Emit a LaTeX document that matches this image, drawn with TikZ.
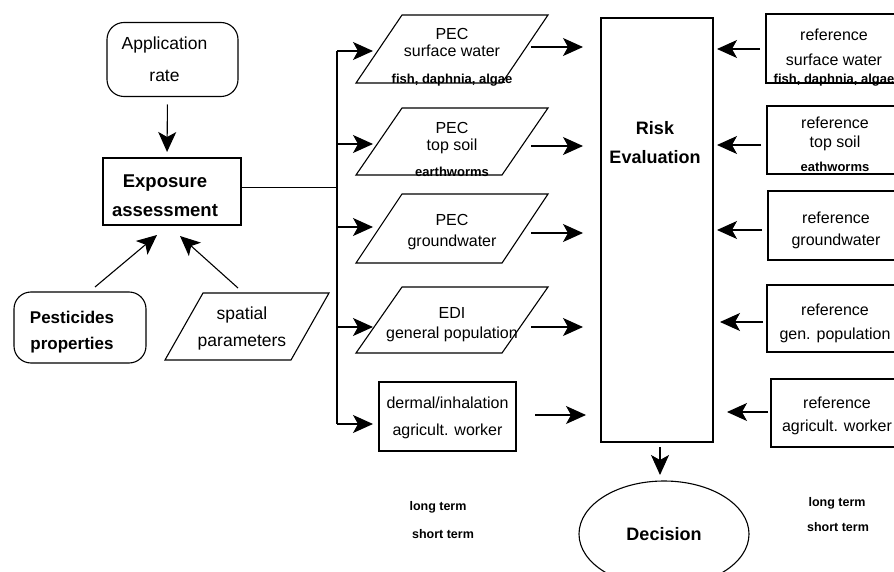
\documentclass[tikz,border=0pt]{standalone}
\usepackage{fontspec}
\setmainfont{Liberation Sans}
\usetikzlibrary{arrows.meta,shapes.geometric,calc}
\newcommand\fsz[2]{\fontsize{#1pt}{#2pt}\selectfont}
% slanted data box: outline drawn around the body of node #1,
% #2 = half of the horizontal slant
\newcommand\slantbox[2]{%
  \draw[ln] ($(#1.south west)+(-#2,0)$) -- ($(#1.south east)+(-#2,0)$)
    -- ($(#1.north east)+(#2,0)$) -- ($(#1.north west)+(#2,0)$) -- cycle;}

\begin{document}
\begin{tikzpicture}[x=1pt,y=-1pt,
  every node/.style={inner sep=0pt,outer sep=0pt,align=center},
  ln/.style={line width=1.1pt},
  box/.style={ln,draw,rectangle},
  rbox/.style={box,rounded corners=17pt},
  body/.style={rectangle},
  arr/.style={ln,-{Stealth[length=20pt,width=18pt,inset=5pt]}},
  mid/.style={font=\fsz{16}{#1}},
  term/.style={font=\bfseries\fsz{12.5}{12.5},anchor=base},
]
\useasboundingbox (0,0) rectangle (894,572);
\clip (0,0) rectangle (894,572);

% ---- inputs of the exposure assessment
\node[rbox,minimum width=131pt,minimum height=74pt,
  label={[name=app-t,font=\fsz{17.5}{32},xshift=-8pt]center:{Application\\rate}}]
  (app) at (172.5,59.5) {};
\node[box,minimum width=138pt,minimum height=67pt,
  label={[name=exp-t,font=\bfseries\fsz{18.5}{29},xshift=-7pt,yshift=-4pt]center:{Exposure\\assessment}}]
  (exp) at (172,191.5) {};
\node[rbox,minimum width=132pt,minimum height=71pt,
  label={[name=pest-t,font=\bfseries\fsz{17}{26},xshift=-8pt,yshift=-5pt]center:{Pesticides\\properties}}]
  (pest) at (80,327.5) {};
\node[body,minimum width=126pt,minimum height=67pt,
  label={[name=spat-t,font=\fsz{17.5}{27},xshift=-5pt,yshift=-2pt]center:{spatial\\parameters}}]
  (spat) at (247,326.5) {};
\slantbox{spat}{19}

% ---- exposure estimates
\node[body,minimum width=146pt,minimum height=68pt,
  label={[name=p1-t,mid=17,yshift=-8pt]center:{PEC\\surface water\\[10pt]{\bfseries\fsz{13}{13}fish, daphnia, algae}}}]
  (p1) at (452,49) {};
\node[body,minimum width=146pt,minimum height=67pt,
  label={[name=p2-t,mid=17,yshift=-8pt]center:{PEC\\top soil\\[9pt]{\bfseries\fsz{13}{13}earthworms}}}]
  (p2) at (452,141.5) {};
\node[body,minimum width=146pt,minimum height=69pt,
  label={[name=p3-t,mid=21,yshift=-4pt]center:{PEC\\groundwater}}]
  (p3) at (452,228.5) {};
\node[body,minimum width=146pt,minimum height=66pt,
  label={[name=p4-t,mid=20,yshift=-5pt]center:{EDI\\general population}}]
  (p4) at (452,320) {};
\foreach \n in {p1,p2,p3,p4} {\slantbox{\n}{23}}
\node[box,minimum width=137pt,minimum height=69pt,
  label={[name=derm-t,mid=27,yshift=-1pt]center:{dermal/inhalation\\agricult. worker}}]
  (derm) at (447.5,416.5) {};

% ---- evaluation and decision
\node[box,minimum width=112pt,minimum height=424pt,
  label={[name=risk-t,font=\bfseries\fsz{18}{29},xshift=-2pt,yshift=87pt]center:{Risk\\Evaluation}}]
  (risk) at (657,230) {};
\node[ellipse,draw,ln,minimum width=170pt,minimum height=106pt,
  font=\bfseries\fsz{18}{18}] (dec) at (664,534) {Decision};

% ---- reference values
\node[box,minimum width=136pt,minimum height=69pt,
  label={[name=r1-t,mid=25,yshift=-9pt]center:{reference\\surface water\\[-7pt]{\bfseries\fsz{13}{13}fish, daphnia, algae}}}]
  (r1) at (834,48.5) {};
\node[box,minimum width=136pt,minimum height=68pt,
  label={[name=r2-t,mid=19,yshift=-4.5pt]center:{reference\\top soil\\[5pt]{\bfseries\fsz{13}{13}eathworms}}}]
  (r2) at (835,140) {};
\node[box,minimum width=136pt,minimum height=69pt,
  label={[name=r3-t,mid=22,yshift=-5pt]center:{reference\\groundwater}}]
  (r3) at (836,225.5) {};
\node[box,minimum width=136pt,minimum height=67pt,
  label={[name=r4-t,mid=24,yshift=-5pt]center:{reference\\gen. population}}]
  (r4) at (835,318.5) {};
\node[box,minimum width=136pt,minimum height=68pt,
  label={[name=r5-t,mid=23,yshift=-3pt,xshift=-2pt]center:{reference\\agricult. worker}}]
  (r5) at (839,413) {};

% ---- time scale notes
\node[term] (lt1) at (438,510.5) {long term};
\node[term] (st1) at (443,538) {short term};
\node[term] (lt2) at (837,506) {long term};
\node[term] (st2) at (838,531) {short term};

% ---- connectors
\draw[arr,shorten <=8pt,shorten >=6pt] ([xshift=-5pt]app.south) -- ([xshift=-5pt]exp.north);
\draw[arr] ([xshift=15pt,yshift=5pt]pest.north) -- ([xshift=-15pt,yshift=-10pt]exp.south);
\draw[arr] ([xshift=-9pt,yshift=5pt]spat.north) -- ([xshift=8pt,yshift=-11pt]exp.south);

\coordinate (bus) at (337,0);
\coordinate (exp-out) at ([yshift=4pt]exp.east);
\draw[ln] (exp-out) -- (exp-out -| bus);
\foreach \n/\d in {p1/-2,p2/-2.5,p3/1.5,p4/-7,derm/-7.5}
  {\coordinate (\n-in) at ([yshift=\d pt]\n.west);}
\draw[ln] (bus |- p1-in) -- (bus |- derm-in);
\foreach \n in {p1,p2,p3,p4,derm}
  {\draw[arr,shorten >=6pt] (bus |- \n-in) -- (\n-in);}

\foreach \n/\d in {p1/2,p2/-4.5,p3/-4.5,p4/-7}
  {\coordinate (\n-out) at ([yshift=\d pt]\n.east);
   \draw[arr,shorten <=6pt,shorten >=18pt] (\n-out) -- (risk.west |- \n-out);}
\coordinate (derm-out) at ([yshift=1.5pt]derm.east);
\draw[arr,shorten <=19pt,shorten >=15pt] (derm-out) -- (risk.west |- derm-out);

\foreach \n/\d/\a/\b in {r1/-0.5/6/4,r2/-5/6/4,r3/-4.5/6/4,r4/-3.5/4/7,r5/1/3/14}
  {\coordinate (\n-out) at ([yshift=\d pt]\n.west);
   \draw[arr,shorten <=\a pt,shorten >=\b pt] (\n-out) -- (risk.east |- \n-out);}

\draw[arr,shorten <=5pt,shorten >=6pt] ([xshift=3pt]risk.south) -- ([xshift=3pt]risk.south |- dec.north);
\end{tikzpicture}
\end{document}
